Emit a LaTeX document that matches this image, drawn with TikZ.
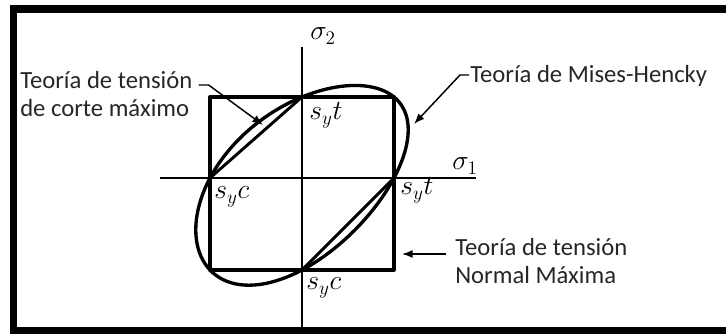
\documentclass[tikz,border=0pt]{standalone}
\usepackage{fontspec}
\setmainfont{Carlito}
\usetikzlibrary{arrows.meta}
\begin{document}
\begin{tikzpicture}[x=0.75pt, y=-0.75pt, line join=round,
  declare function={mu(\t)=cos(\t)+sin(\t)/sqrt(3); mv(\t)=cos(\t)-sin(\t)/sqrt(3);},
  txt/.style={font=\fontsize{18.5}{21}\selectfont, text=black!85, inner sep=0pt, anchor=base west},
  sym/.style={font=\fontsize{21}{24}\selectfont, inner sep=0pt, anchor=base west},
  axis/.style={line width=1pt},
  bold/.style={line width=2.5pt},
  pointer/.style={line width=1.1pt, -{Latex[length=8pt,width=6pt]}}]
\useasboundingbox (0,0) rectangle (726,334);
% frame
\fill (10,5) rectangle (726,13);
\fill (10,5) rectangle (17,334);
\fill (10,327) rectangle (726,334);
% axes
\draw[axis] (160,178) -- (476,178);
\draw[axis] (302,47) -- (302,327);
% normal maxima (square)
\draw[bold] (210,97) rectangle (394,270);
% corte maximo
\draw[bold, line width=2.2pt] (210,178) -- (302,97) (302,270) -- (394,178);
% mises-hencky
\draw[bold] plot[domain=0:360, samples=121, variable=\t]
  ({302+92*mu(\t)}, {178-86.5*mv(\t)+5.5*mv(\t)*mv(\t)}) -- cycle;
% axis and point labels
\node[sym] (s2) at (310,40) {$\sigma_2$};
\node[sym] (s1) at (452,170) {$\sigma_1$};
\node[sym] (syt1) at (309,120) {$s_y t$};
\node[sym] (syc1) at (214,199) {$s_y c$};
\node[sym] (syt2) at (400,195) {$s_y t$};
\node[sym] (syc2) at (306,290) {$s_y c$};
% theories
\node[txt] (tr1) at (20,89) {Teoría de tensión};
\node[txt] (tr2) at (20,117) {de corte máximo};
\node[txt] (mh) at (470,83) {Teoría de Mises-Hencky};
\node[txt] (nm1) at (455,256) {Teoría de tensión};
\node[txt] (nm2) at (455,284) {Normal Máxima};
\coordinate (trTip) at (263,125);
\coordinate (mhTip) at (414,124);
\coordinate (nmTip) at (402,254);
\draw[pointer] ([shift={(6,-4)}]tr1.base east) -- ++(10,0) -- (trTip);
\draw[pointer] ([shift={(-1,-8)}]mh.base west) -- ++(-9,0) -- (mhTip);
\draw[pointer] ([shift={(-9,-2)}]nm1.base west) -- (nmTip);
\end{tikzpicture}
\end{document}
